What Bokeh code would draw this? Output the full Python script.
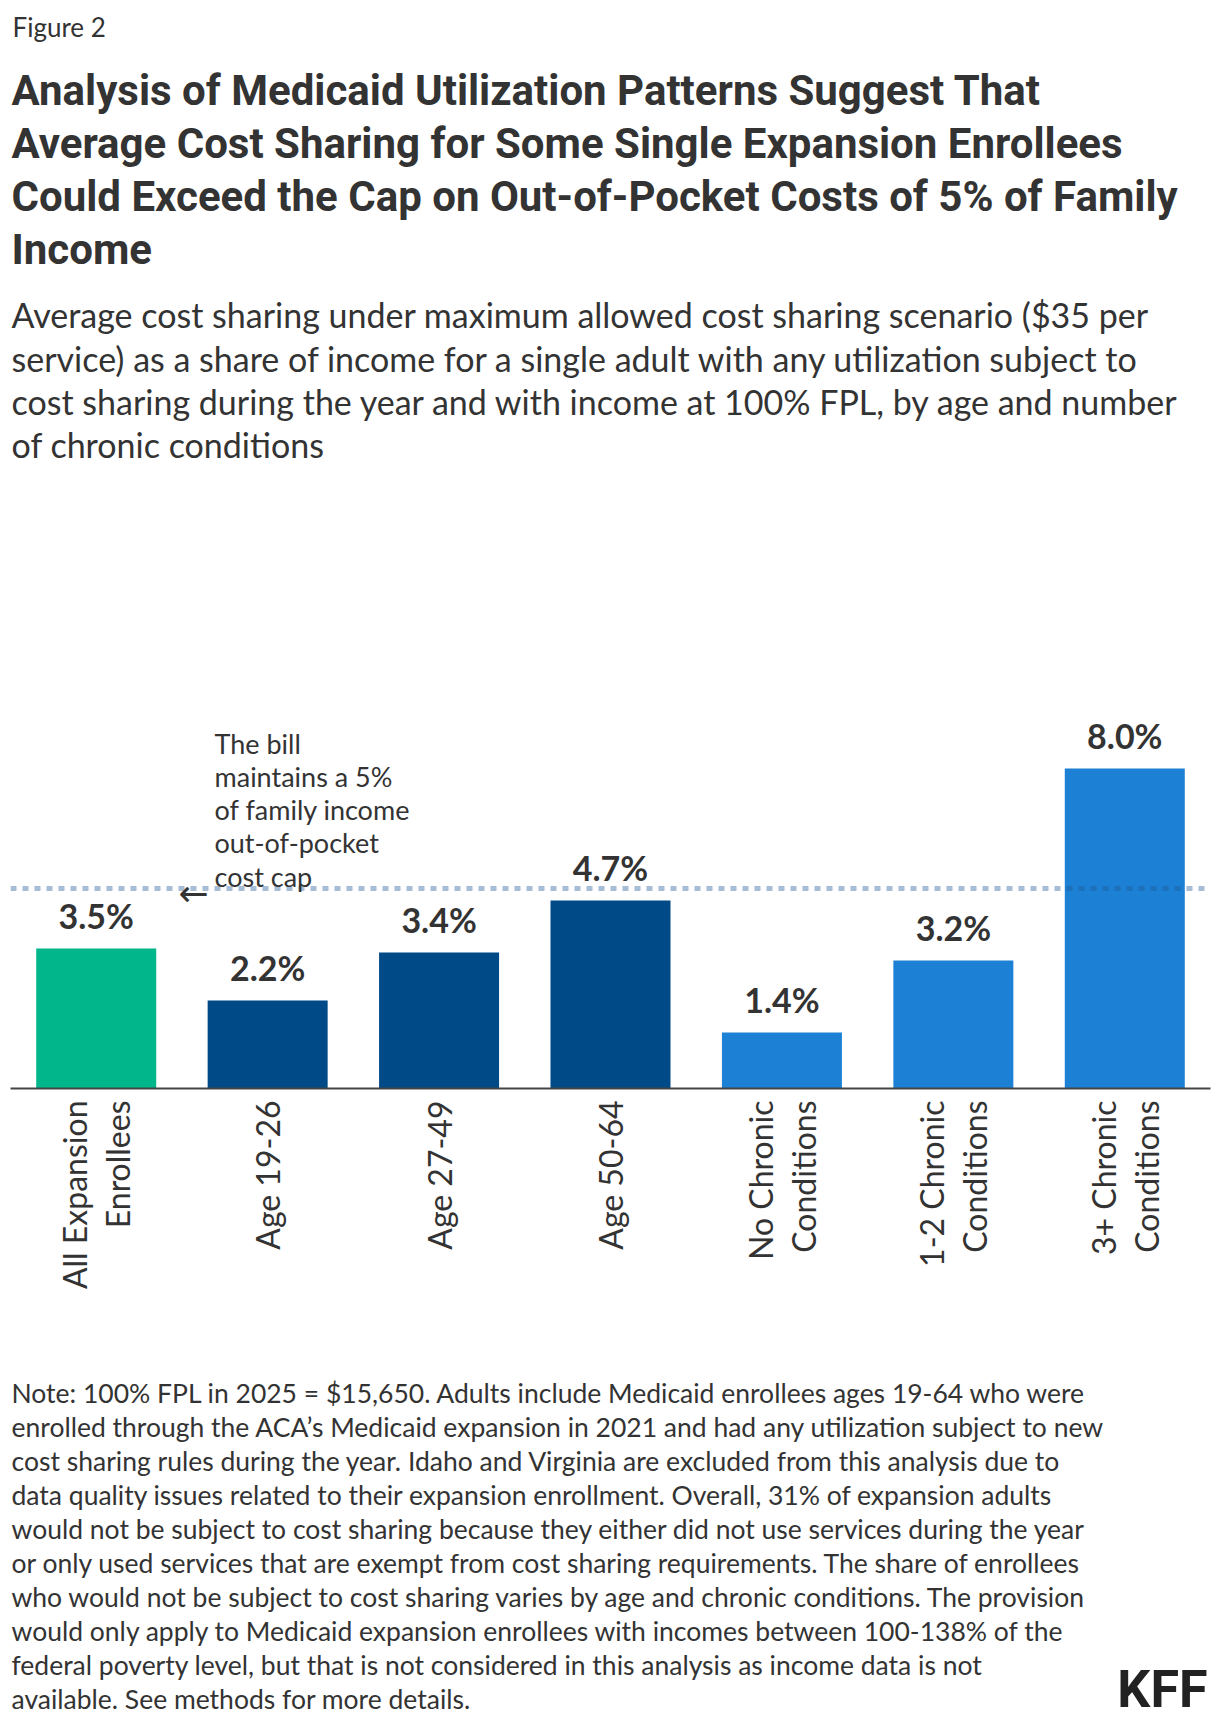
import math
from bokeh.plotting import figure
from bokeh.layouts import column
from bokeh.core.properties import value
from bokeh.models import (ColumnDataSource, Range1d, FactorRange, Span, LabelSet)
from bokeh.embed import file_html
from bokeh.resources import INLINE

# ---------------- data ----------------
categories = ["All Expansion\nEnrollees", "Age 19-26", "Age 27-49", "Age 50-64",
              "No Chronic\nConditions", "1-2 Chronic\nConditions", "3+ Chronic\nConditions"]
values = [3.5, 2.2, 3.4, 4.7, 1.4, 3.2, 8.0]
value_labels = ["3.5%", "2.2%", "3.4%", "4.7%", "1.4%", "3.2%", "8.0%"]
bar_colors = ["#00b68a", "#004b87", "#004b87", "#004b87", "#1c80d4", "#1c80d4", "#1c80d4"]
cap_value = 5.0

fig_label = "Figure 2"
title_lines = ["Analysis of Medicaid Utilization Patterns Suggest That",
               "Average Cost Sharing for Some Single Expansion Enrollees",
               "Could Exceed the Cap on Out-of-Pocket Costs of 5% of Family",
               "Income"]
subtitle_lines = ["Average cost sharing under maximum allowed cost sharing scenario ($35 per",
                  "service) as a share of income for a single adult with any utilization subject to",
                  "cost sharing during the year and with income at 100% FPL, by age and number",
                  "of chronic conditions"]
annotation_lines = ["The bill", "maintains a 5%", "of family income", "out-of-pocket", "cost cap"]
note_lines = ["Note: 100% FPL in 2025 = $15,650. Adults include Medicaid enrollees ages 19-64 who were",
              "enrolled through the ACA\u2019s Medicaid expansion in 2021 and had any utilization subject to new",
              "cost sharing rules during the year. Idaho and Virginia are excluded from this analysis due to",
              "data quality issues related to their expansion enrollment. Overall, 31% of expansion adults",
              "would not be subject to cost sharing because they either did not use services during the year",
              "or only used services that are exempt from cost sharing requirements. The share of enrollees",
              "who would not be subject to cost sharing varies by age and chronic conditions. The provision",
              "would only apply to Medicaid expansion enrollees with incomes between 100-138% of the",
              "federal poverty level, but that is not considered in this analysis as income data is not",
              "available. See methods for more details."]
logo_text = "KFF"

# ---------------- layout constants (pixels, page coordinates) ----------------
W = 1220
LEFT, RIGHT = 10, 1210  # frame edges (shared by all stacked figures)
HEADER_H = 640          # page 0..640
FRAME_H = 448           # page 640..1088
CHART_BOTTOM = 252      # page 1088..1340
NOTES_H = 384           # page 1340..1724
FONT = "Lato"
BOLD_FONT = "Roboto"
TXT = "#333333"
K = 0.37                # baseline correction for text glyphs (fraction of font size)


def text_fig(h):
    f = figure(width=W, height=h, x_range=Range1d(LEFT, RIGHT), y_range=Range1d(0, h),
               output_backend="svg", toolbar_location=None,
               x_axis_location=None, y_axis_location=None,
               min_border_left=LEFT, min_border_right=W - RIGHT,
               min_border_top=0, min_border_bottom=0,
               outline_line_color=None, background_fill_color="white",
               border_fill_color="white")
    f.xgrid.grid_line_color = None
    f.ygrid.grid_line_color = None
    return f


def add_lines(f, top, h, lines, px, py0, step, size, bold=False, align="left", color=TXT,
              font=None):
    xs = [px] * len(lines)
    ys = [top + h - (py0 + step * i - K * size) for i in range(len(lines))]
    f.text(x=xs, y=ys, text=lines,
           text_font=value(font or (BOLD_FONT if bold else FONT)), text_font_size=f"{size}px",
           text_font_style="bold" if bold else "normal",
           text_color=color, text_align=align, text_baseline="alphabetic")


# ---------------- header ----------------
header = text_fig(HEADER_H)
add_lines(header, 0, HEADER_H, [fig_label], 12, 36, 0, 26)
add_lines(header, 0, HEADER_H, title_lines, 11, 106, 53, 42, bold=True)
add_lines(header, 0, HEADER_H, subtitle_lines, 11, 327, 43.3, 34)

# ---------------- chart ----------------
p = figure(width=W, height=FRAME_H + CHART_BOTTOM,
           x_range=FactorRange(*categories, range_padding=0),
           y_range=Range1d(0, FRAME_H / 40.0), output_backend="svg", toolbar_location=None,
           y_axis_location=None, min_border_left=LEFT, min_border_right=W - RIGHT,
           min_border_top=0, min_border_bottom=CHART_BOTTOM,
           outline_line_color=None, background_fill_color="white",
           border_fill_color="white")
p.xgrid.grid_line_color = None
p.ygrid.grid_line_color = None

src = ColumnDataSource(dict(cat=categories, val=values, lab=value_labels, col=bar_colors))
p.vbar(x="cat", top="val", width=0.7, fill_color="col", line_color=None, source=src)

VAL_SIZE = 34
p.add_layout(LabelSet(x="cat", y="val", text="lab", source=src, y_offset=20,
                      text_align="center", text_baseline="alphabetic",
                      text_font=value(FONT), text_font_style="bold",
                      text_font_size=f"{VAL_SIZE}px", text_color=TXT))

p.add_layout(Span(location=cap_value, dimension="width", line_color="#205a96",
                  line_alpha=0.4, line_width=5, line_dash="6 6"))

ax = p.xaxis[0]
ax.axis_line_color = "#444444"
ax.axis_line_width = 2
ax.major_tick_line_color = None
ax.minor_tick_line_color = None
ax.major_label_orientation = math.pi / 2
ax.major_label_standoff = 6
ax.major_label_text_font = FONT
ax.major_label_text_font_size = "32px"
ax.major_label_text_color = TXT
ax.major_label_text_line_height = 1.1

FRAME_BOTTOM_PAGE = HEADER_H + FRAME_H
ANN_SIZE = 27

ann_src = ColumnDataSource(dict(
    x=[214 - LEFT] * len(annotation_lines),
    y=[FRAME_BOTTOM_PAGE - (753 + 33.3 * i) for i in range(len(annotation_lines))],
    t=annotation_lines))
p.add_layout(LabelSet(x="x", y="y", text="t", source=ann_src,
                      x_units="screen", y_units="screen",
                      text_font=value(FONT), text_font_size=f"{ANN_SIZE}px", text_color=TXT,
                      text_align="left", text_baseline="alphabetic"))
arrow_src = ColumnDataSource(dict(x=[193 - LEFT], y=[FRAME_BOTTOM_PAGE - 893], t=["\u2190"]))
p.add_layout(LabelSet(x="x", y="y", text="t", source=arrow_src,
                      x_units="screen", y_units="screen",
                      text_font=value("DejaVu Sans"), text_font_size="36px", text_color=TXT,
                      text_align="center", text_baseline="middle"))

# ---------------- notes ----------------
NOTES_TOP = HEADER_H + FRAME_H + CHART_BOTTOM
notes = text_fig(NOTES_H)
add_lines(notes, NOTES_TOP, NOTES_H, note_lines, 11, 1402, 34, 26.5)
add_lines(notes, NOTES_TOP, NOTES_H, [logo_text], 1207, 1708, 0, 52, bold=True,
          align="right", color="#222222")

layout = column(header, p, notes, spacing=0)
open("out.html", "w").write(file_html(layout, INLINE))
